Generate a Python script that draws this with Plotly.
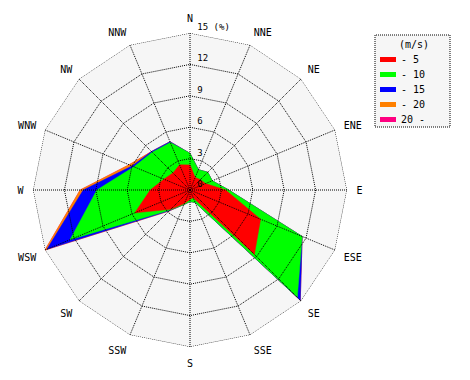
import plotly.graph_objects as go

# ---- data ----
directions = ["N", "NNE", "NE", "ENE", "E", "ESE", "SE", "SSE",
              "S", "SSW", "SW", "WSW", "W", "WNW", "NW", "NNW"]
speed_classes = ["- 5", "- 10", "- 15", "- 20", "20 -"]
# frequency (%) of each speed class per direction
freq_0_5   = [2.4, 1.3, 1.4, 1.6, 3.4, 7.3, 8.7, 0.8, 0.9, 1.4, 2.6, 5.7, 3.8, 2.7, 2.3, 2.6]
freq_5_10  = [1.1, 0.8, 1.0, 0.7, 0.3, 4.3, 5.8, 0.5, 0.2, 0.1, 0.1, 6.7, 5.1, 3.1, 2.8, 2.3]
freq_10_15 = [0.0, 0.0, 0.0, 0.0, 0.0, 0.0, 0.4, 0.0, 0.0, 0.0, 0.1, 2.4, 1.3, 0.2, 0.1, 0.1]
freq_15_20 = [0.0, 0.0, 0.0, 0.0, 0.0, 0.0, 0.0, 0.0, 0.0, 0.0, 0.05, 0.2, 0.3, 0.3, 0.0, 0.0]
freq_20_up = [0.0] * 16
radial_ticks = [0, 3, 6, 9, 12, 15]
radial_ticktext = ["0", "3", "6", "9", "12", "15 (%)"]
colors = ["#ff0000", "#00ff00", "#0000ff", "#ff8000", "#ff0080"]

series = [freq_0_5, freq_5_10, freq_10_15, freq_15_20, freq_20_up]

# cumulative (stacked) values
cum = []
acc = [0.0] * 16
for s in series:
    acc = [a + v for a, v in zip(acc, s)]
    cum.append(acc)

# the page body has an 8px margin, so the figure is drawn 8px smaller and
# every pixel position below is measured in window pixels minus that offset
OFF = 8
W, H = 470 - OFF, 380 - OFF
FONT = "DejaVu Sans Mono"

fig = go.Figure()
# draw outermost first
for i in reversed(range(len(series))):
    fig.add_trace(go.Scatterpolar(
        r=cum[i] + [cum[i][0]], theta=directions + [directions[0]],
        mode="lines", fill="toself", fillcolor=colors[i],
        line=dict(color=colors[i], width=0.5),
        name=speed_classes[i], showlegend=False, hoverinfo="skip"))

# dotted grid drawn above the data
ring_r, ring_t = [], []
for rv in radial_ticks[1:]:
    ring_r += [rv] * 17 + [None]
    ring_t += directions + [directions[0], directions[0]]
fig.add_trace(go.Scatterpolar(r=ring_r, theta=ring_t, mode="lines",
                              line=dict(color="black", width=1, dash="1px,1px"),
                              showlegend=False, hoverinfo="skip", connectgaps=False))
sp_r, sp_t = [], []
for d in directions:
    sp_r += [0, 15, None]
    sp_t += [d, d, d]
fig.add_trace(go.Scatterpolar(r=sp_r, theta=sp_t, mode="lines",
                              line=dict(color="black", width=1, dash="1px,1px"),
                              showlegend=False, hoverinfo="skip", connectgaps=False))


def px(x):
    return (x - OFF) / W


def py(y):
    return 1 - (y - OFF) / H


cx, cy, R = 190, 190, 157
fig.update_layout(
    width=W, height=H, margin=dict(l=0, r=0, t=0, b=0),
    paper_bgcolor="white",
    font=dict(family=FONT, size=10, color="black"),
    polar=dict(
        domain=dict(x=[px(cx - R), px(cx + R)], y=[py(cy + R), py(cy - R)]),
        bgcolor="#f6f6f6",
        gridshape="linear",
        angularaxis=dict(type="category", categoryarray=directions, direction="clockwise",
                         rotation=90, showgrid=False, showline=False,
                         ticks="outside", ticklen=7, tickcolor="rgba(0,0,0,0)",
                         tickfont=dict(family=FONT, size=10, color="black")),
        radialaxis=dict(range=[0, 15], tickvals=radial_ticks,
                        ticktext=[t + "<br> " for t in radial_ticktext],
                        angle=90, tickangle=90, showgrid=False, showline=False,
                        ticks="outside", ticklen=5, tickcolor="rgba(0,0,0,0)",
                        tickfont=dict(family=FONT, size=9, color="black")),
    ),
)

# legend (manual)
fig.add_shape(type="rect", xref="paper", yref="paper",
              x0=px(375), x1=px(450), y0=py(127), y1=py(35),
              line=dict(color="black", width=1, dash="1px,1px"), fillcolor="#f6f6f6")
fig.add_annotation(x=px(414), y=py(44), xref="paper", yref="paper", text="(m/s)",
                   xanchor="center", yanchor="middle",
                   showarrow=False, font=dict(family=FONT, size=10))
for i, lab in enumerate(speed_classes):
    yc = 59.5 + 15 * i
    fig.add_shape(type="rect", xref="paper", yref="paper",
                  x0=px(380), x1=px(396), y0=py(yc + 2.5), y1=py(yc - 2.5),
                  line=dict(width=0), fillcolor=colors[i])
    fig.add_annotation(x=px(399), y=py(yc), xref="paper", yref="paper", text=lab,
                       xanchor="left", yanchor="middle",
                       showarrow=False, font=dict(family=FONT, size=10))

fig.write_html("out.html")
